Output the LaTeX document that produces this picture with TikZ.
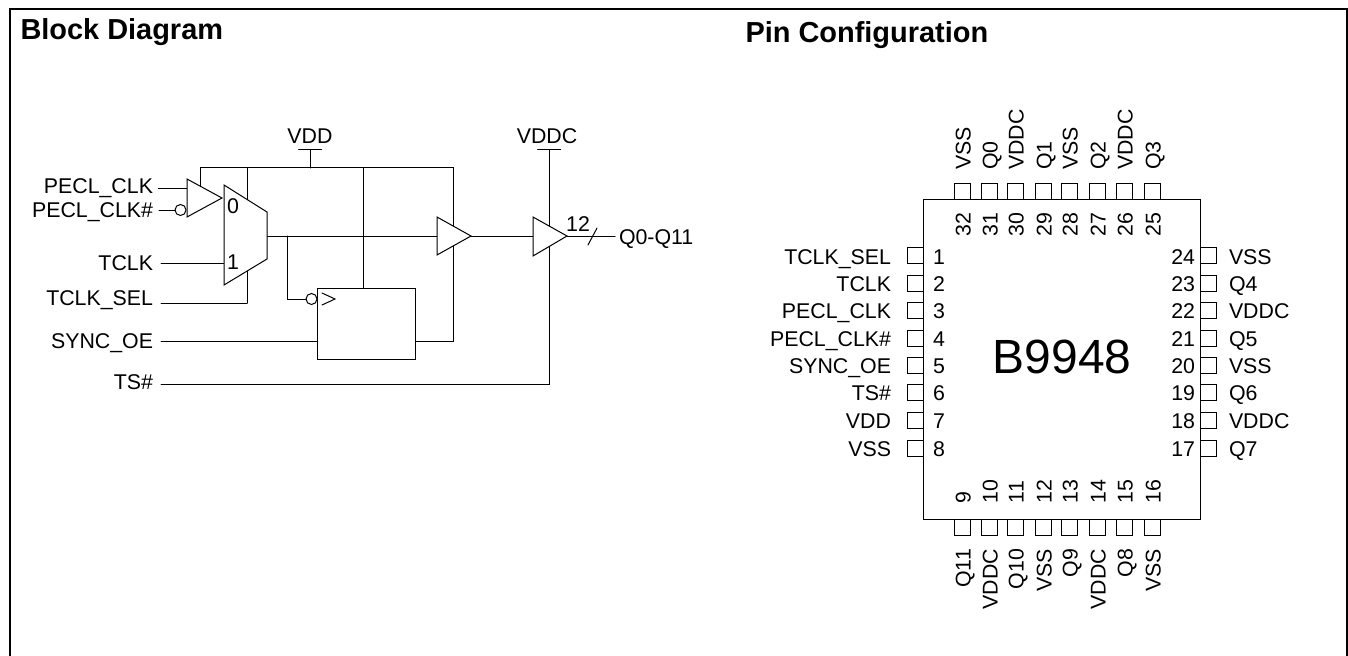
\documentclass[tikz,border=0pt]{standalone}
\usepackage{fontspec}
\usetikzlibrary{calc}
\setmainfont{Liberation Sans}
\begin{document}
\begin{tikzpicture}[x=0.75pt,y=-0.75pt,
  wire/.style={line width=0.75pt,line cap=round,line join=miter},
  gate/.style={draw,fill=white,line width=0.75pt,line join=miter},
  txt/.style={inner sep=0pt,outer sep=0pt,font=\fontsize{16pt}{18pt}\selectfont,text height=11.46pt,text depth=0pt},
  ttl/.style={inner sep=0pt,outer sep=0pt,font=\fontsize{21.7pt}{25pt}\selectfont\bfseries,anchor=west,text height=15.5pt,text depth=0pt},
  lbl/.style={txt,anchor=east},
  bubble/.style={circle,draw,fill=white,line width=0.75pt,minimum size=8.25pt,inner sep=0pt,outer sep=0pt},
  pad/.style={rectangle,draw,fill=white,line width=0.75pt,minimum size=12pt,inner sep=0pt,outer sep=0pt}]
\useasboundingbox (0,0) rectangle (1348,656);
\draw[line width=1.5pt,line join=miter] (10,656) -- (10,9) -- (1347,9) -- (1347,656);

% titles
\node[ttl] (tblock) at (20.5,29) {Block Diagram};
\node[ttl] (tpin) at (745.5,32) {Pin Configuration};

% labels of the block diagram
\node[lbl] (lpecl) at (153,186) {PECL\_CLK};
\node[lbl] (lpecln) at (153,210) {PECL\_CLK\#};
\node[lbl] (ltclk) at (153,263) {TCLK};
\node[lbl] (lsel) at (153,298) {TCLK\_SEL};
\node[lbl] (lsync) at (153,341) {SYNC\_OE};
\node[lbl] (lts) at (153,382) {TS\#};
\node[txt] (lvdd) at (310,136) {VDD};
\node[txt] (lvddc) at (547,136) {VDDC};
\node[txt] (l12) at (578,224) {12};
\node[txt,anchor=west] (lq) at (619,237) {Q0-Q11};

% named points
\coordinate (vddtop) at (310,150);
\coordinate (vddbus) at (310,168);
\coordinate (busl) at (200,168);
\coordinate (buslb) at (200,190);
\coordinate (busm) at (247,168);
\coordinate (selb) at (247,303);
\coordinate (busc) at (363,168);
\coordinate (buscb) at (363,288);
\coordinate (busr) at (453,168);
\coordinate (vddctop) at (549,150);
\coordinate (tsup) at (549,384);
\coordinate (in1) at (187,188);
\coordinate (in2) at (175,210);
\coordinate (muxin) at (224,263);
\coordinate (muxout) at (267,236);
\coordinate (branch) at (287,236);
\coordinate (ffin) at (317,341);
\coordinate (ffout) at (415,341);
\coordinate (ffoutr) at (453,341);
\coordinate (b2in) at (437,236);
\coordinate (b2out) at (471,236);
\coordinate (b3in) at (533,236);
\coordinate (b3out) at (567,236);
\coordinate (qout) at (615,236);
\coordinate (slasha) at (588,245);
\coordinate (slashb) at (597,228);

% wires behind the gates
\draw[wire] ($(vddtop)+(-11.5,0)$) -- ($(vddtop)+(11.5,0)$);
\draw[wire] (vddtop) -- (vddbus);
\draw[wire] ($(vddctop)+(-11.5,0)$) -- ($(vddctop)+(11.5,0)$);
\draw[wire] (buslb) -- (busl) -- (busr) -- (ffoutr) -- (ffout);
\draw[wire] (busm) -- (selb);
\draw[wire,shorten >=6pt] (selb) -- (lsel.east |- selb);
\draw[wire] (busc) -- (buscb);
\draw[wire,shorten <=4pt] (lpecl.east |- in1) -- (in1);
\draw[wire,shorten <=4.5pt] (lpecln.east |- in2) -- (in2);
\draw[wire,shorten <=6pt] (ltclk.east |- muxin) -- (muxin);
\draw[wire,shorten <=6pt] (lsync.east |- ffin) -- (ffin);
\draw[wire,shorten <=6pt] (lts.east |- tsup) -- (tsup) -- (vddctop);
\draw[wire] (muxout) -- (b2in);
\draw[wire] (b2out) -- (b3in);
\draw[wire] (b3out) -- (qout);
\draw[wire] (slasha) -- (slashb);

% gates
\draw[gate] (187,179) -- (222,198) -- (187,217) -- cycle;
\node[bubble] (bub1) at (180.5,210) {};
\draw[gate] (224,185) -- (267,212) -- (267,259) -- (224,285) -- cycle;
\node[txt] (m0) at (233,206) {0};
\node[txt] (m1) at (233,262) {1};
\draw[gate] (437,217) -- (471,236) -- (437,255) -- cycle;
\draw[gate] (533,217) -- (567,236) -- (533,256) -- cycle;
\draw[gate] (317,288) rectangle (415,359);
\draw[wire] (322,293) -- (335,299) -- (322,305);
\node[bubble] (bub2) at (311.5,299) {};
\draw[wire] (branch) -- (branch |- bub2) -- (bub2.west);

% package
\draw[line width=0.75pt] (923,199) rectangle (1200,519);
\node[font=\fontsize{36pt}{40pt}\selectfont,inner sep=0pt,text height=25.8pt,text depth=0pt] (chip) at (1062,356) {B9948};

% left and right pins
\foreach \n/\y/\t/\ty in {1/255/TCLK\_SEL/257,2/283/TCLK/284,3/310/PECL\_CLK/311,4/338/PECL\_CLK\#/339,5/365/SYNC\_OE/366,6/392/TS\#/393,7/420/VDD/421,8/448/VSS/449}{
  \node[pad] (p\n) at (915,\y) {};
  \node[lbl] (pl\n) at (891,\ty) {\t};
  \node[txt,anchor=west] (pn\n) at (933,\ty) {\n};
}
\foreach \n/\y/\t/\ty in {24/255/VSS/257,23/283/Q4/284,22/310/VDDC/311,21/338/Q5/339,20/365/VSS/366,19/392/Q6/393,18/420/VDDC/421,17/448/Q7/449}{
  \node[pad] (p\n) at (1208,\y) {};
  \node[txt,anchor=west] (pl\n) at (1229,\ty) {\t};
  \node[txt,anchor=east] (pn\n) at (1195,\ty) {\n};
}
% top and bottom pins
\foreach \n/\x/\t in {32/962/VSS,31/989/Q0,30/1015/VDDC,29/1043/Q1,28/1069/VSS,27/1097/Q2,26/1124/VDDC,25/1152/Q3}{
  \node[pad] (p\n) at (\x,191) {};
  \node[txt,rotate=90,anchor=west] (pl\n) at (\x+1,170) {\t};
  \node[txt,rotate=90,anchor=west] (pn\n) at (\x+1,236) {\n};
}
\foreach \n/\x/\t in {9/962/Q11,10/989/VDDC,11/1015/Q10,12/1043/VSS,13/1069/Q9,14/1097/VDDC,15/1124/Q8,16/1152/VSS}{
  \node[pad] (p\n) at (\x,527) {};
  \node[txt,rotate=90,anchor=east] (pl\n) at (\x+1,549) {\t};
  \node[txt,rotate=90,anchor=west] (pn\n) at (\x+1,503) {\n};
}
\end{tikzpicture}
\end{document}
